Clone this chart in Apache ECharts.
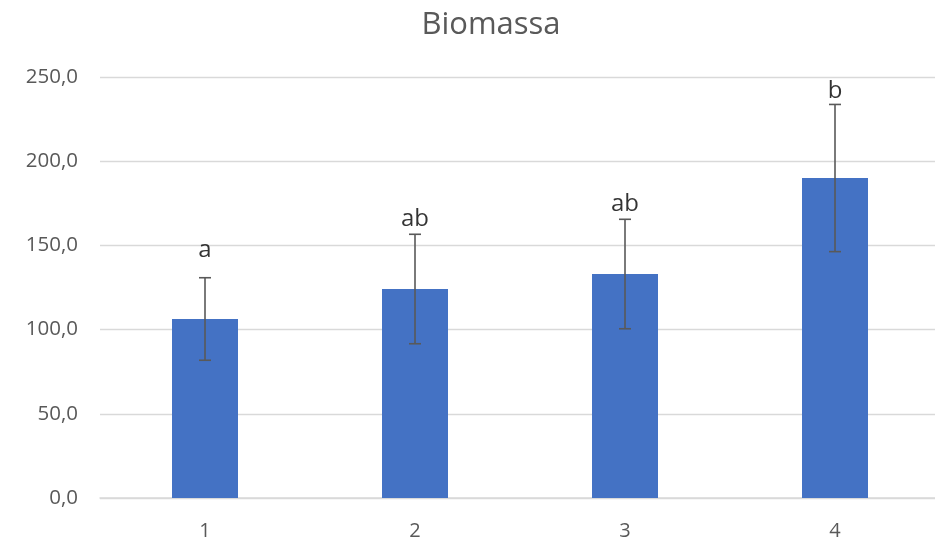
<!DOCTYPE html>
<html>
<head>
<meta charset="utf-8">
<script src="https://cdn.jsdelivr.net/npm/echarts@6/dist/echarts.min.js"></script>
<style>html,body{margin:0;padding:0;background:#fff;overflow:hidden;width:935px;height:541px;}#c{width:940px;height:541px;}</style>
</head>
<body>
<div id="c"></div>
<script>
const categories = ['1', '2', '3', '4'];
const means = [106.3, 124.1, 133.0, 190.0];
const errors = [24.5, 32.5, 32.5, 43.7];
const letters = ['a', 'ab', 'ab', 'b'];
const letterPos = [140.3, 158.3, 167.2, 234.7];
const yTicks = { min: 0, max: 250, interval: 50 };

const FONT = 'Open Sans';
const chart = echarts.init(document.getElementById('c'), null, { renderer: 'canvas' });

const errData = categories.map((c, i) => [i, means[i] - errors[i], means[i] + errors[i]]);
const letterData = categories.map((c, i) => ({ value: [i, letterPos[i]], name: letters[i] }));

chart.setOption({
  backgroundColor: '#ffffff',
  animation: false,
  title: {
    text: 'Biomassa',
    left: 486,
    textAlign: 'center',
    top: 5,
    textStyle: { fontFamily: FONT, fontSize: 31, fontWeight: 'normal', color: '#595959' }
  },
  grid: { left: 100, right: 0, top: 77, bottom: 43, containLabel: false },
  xAxis: {
    type: 'category',
    data: categories,
    axisLine: { lineStyle: { color: '#d9d9d9', width: 1.5 } },
    axisTick: { show: false },
    axisLabel: { fontFamily: FONT, fontSize: 20, color: '#595959', margin: 23 },
    splitLine: { show: false }
  },
  yAxis: {
    type: 'value',
    min: yTicks.min, max: yTicks.max, interval: yTicks.interval,
    axisLine: { show: false },
    axisTick: { show: false },
    axisLabel: {
      fontFamily: FONT, fontSize: 20.5, color: '#595959', margin: 22,
      formatter: v => v.toFixed(1).replace('.', ',')
    },
    splitLine: { lineStyle: { color: '#d9d9d9', width: 1.3 } }
  },
  series: [
    {
      type: 'bar',
      data: means,
      barWidth: 66,
      itemStyle: { color: '#4472C4' },
      z: 2
    },
    {
      type: 'custom',
      data: errData,
      z: 3,
      renderItem: function (params, api) {
        const i = api.value(0);
        const lo = api.coord([i, api.value(1)]);
        const hi = api.coord([i, api.value(2)]);
        const hw = 6;
        const style = { stroke: '#595959', lineWidth: 1.6, fill: null };
        return {
          type: 'group',
          children: [
            { type: 'line', shape: { x1: hi[0], y1: hi[1], x2: lo[0], y2: lo[1] }, style: style },
            { type: 'line', shape: { x1: hi[0] - hw, y1: hi[1], x2: hi[0] + hw, y2: hi[1] }, style: style },
            { type: 'line', shape: { x1: lo[0] - hw, y1: lo[1], x2: lo[0] + hw, y2: lo[1] }, style: style }
          ]
        };
      }
    },
    {
      type: 'scatter',
      data: letterData,
      symbolSize: 0,
      z: 4,
      label: {
        show: true,
        position: 'top',
        distance: 0,
        formatter: p => p.name,
        fontFamily: FONT, fontSize: 24, color: '#000000'
      }
    }
  ]
});
</script>
</body>
</html>
